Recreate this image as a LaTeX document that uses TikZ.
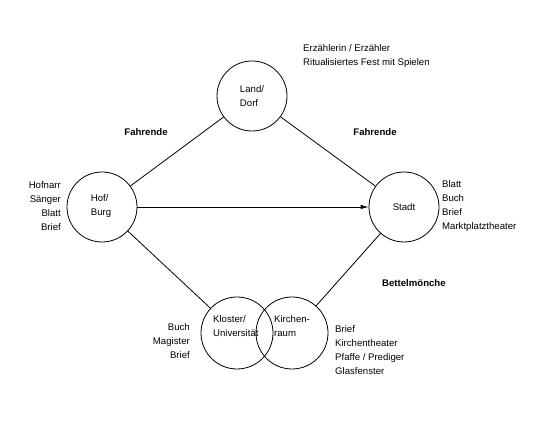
\documentclass[tikz,border=0pt]{standalone}
\usepackage{fontspec}
\setmainfont{Liberation Sans}
\usetikzlibrary{arrows.meta}
\begin{document}
\begin{tikzpicture}[x=1pt,y=-1pt,
  place/.style={circle,draw,line width=0.8pt,minimum size=70pt,inner sep=0pt},
  lbl/.style={font=\fontsize{9.6}{14}\selectfont,inner sep=0pt,align=left},
  rlbl/.style={font=\fontsize{9.6}{14}\selectfont,inner sep=0pt,align=right},
  blbl/.style={font=\fontsize{9.6}{14}\selectfont\bfseries,inner sep=0pt},
  conn/.style={line width=0.8pt}]
\useasboundingbox (0,0) rectangle (547,435);
\node[place] (land) at (252,96) {};
\node[place] (hof) at (102,207) {};
\node[place] (stadt) at (404,207) {};
\node[place,minimum size=72pt] (kloster) at (237,333) {};
\node[place,minimum size=72pt] (kirche) at (292,333) {};
\node[lbl] (tland) at (252,96) {Land/\\Dorf};
\node[lbl] (thof) at (101,206) {Hof/\\Burg};
\node[lbl] (tstadt) at (404,207) {Stadt};
\node[lbl,anchor=west] (tkloster) at (213,326) {Kloster/\\Universität};
\node[lbl,anchor=west] (tkirche) at (274,326) {Kirchen-\\raum};
\draw[conn] (hof) -- (land);
\draw[conn] (land) -- (stadt);
\draw[conn] (hof) -- (kloster);
\draw[conn] (stadt) -- (kirche);
\draw[conn,-{Latex[length=8pt,width=4.5pt]}] (hof) -- (stadt);
\node[lbl,anchor=west] (erz) at (303,56) {Erzählerin / Erzähler\\Ritualisiertes Fest mit Spielen};
\node[blbl] (fahr1) at (146,132) {Fahrende};
\node[blbl] (fahr2) at (375,132) {Fahrende};
\node[rlbl,anchor=east] (hofl) at (61,206) {Hofnarr\\Sänger\\Blatt\\Brief};
\node[lbl,anchor=west] (stadtl) at (442,206) {Blatt\\Buch\\Brief\\Marktplatztheater};
\node[blbl,anchor=west] (bettel) at (382,283) {Bettelmönche};
\node[rlbl,anchor=east] (klosl) at (190,341) {Buch\\Magister\\Brief};
\node[lbl,anchor=west] (kirl) at (335,350) {Brief\\Kirchentheater\\Pfaffe / Prediger\\Glasfenster};
\end{tikzpicture}
\end{document}
